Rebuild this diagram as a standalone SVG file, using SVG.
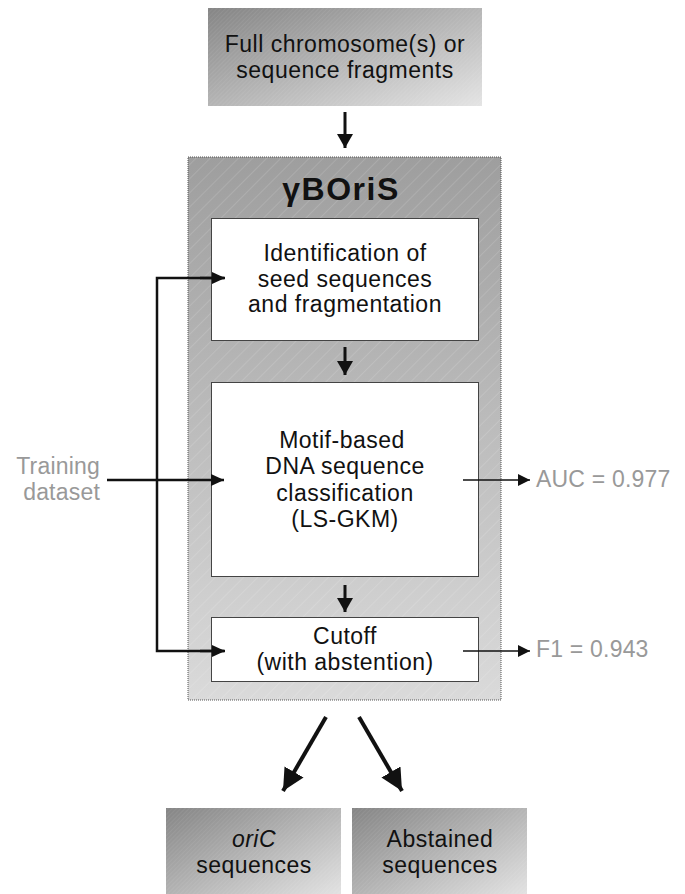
<svg xmlns="http://www.w3.org/2000/svg" width="685" height="894" viewBox="0 0 685 894">
<style>
.t{font-family:"Liberation Sans",Arial,sans-serif;font-size:23px;fill:#111;text-anchor:middle;letter-spacing:0.5px}
.g{font-family:"Liberation Sans",Arial,sans-serif;font-size:23px;fill:#999;letter-spacing:0.2px}
.box{fill:#fff;stroke:#444;stroke-width:1}
.lnk{fill:none;stroke:#111}
</style>
<defs>
<linearGradient id="gd" x1="0" y1="0" x2="1" y2="1">
<stop offset="0" stop-color="#858585"/>
<stop offset="1" stop-color="#e4e4e4"/>
</linearGradient>
<linearGradient id="gc" x1="0" y1="0" x2="0" y2="1">
<stop offset="0" stop-color="#9e9e9e"/>
<stop offset="1" stop-color="#dadada"/>
</linearGradient>
<pattern id="hatch" width="10" height="10" patternUnits="userSpaceOnUse" patternTransform="rotate(45)">
<line x1="0" y1="0" x2="0" y2="10" stroke="#fff" stroke-opacity="0.25" stroke-width="1"/>
</pattern>
<pattern id="fine" width="3" height="3" patternUnits="userSpaceOnUse" patternTransform="rotate(45)">
<line x1="0" y1="0" x2="0" y2="3" stroke="#fff" stroke-opacity="0.12" stroke-width="1"/>
</pattern>
<marker id="ab" markerUnits="userSpaceOnUse" markerWidth="16" markerHeight="16" refX="14" refY="8" orient="auto">
<path d="M0,0 L14,8 L0,16 z" fill="#111"/>
</marker>
<marker id="am" markerUnits="userSpaceOnUse" markerWidth="13" markerHeight="12" refX="13" refY="6" orient="auto">
<path d="M0,0 L13,6 L0,12 z" fill="#111"/>
</marker>
<marker id="as" markerUnits="userSpaceOnUse" markerWidth="12" markerHeight="12" refX="12" refY="6" orient="auto">
<path d="M0,0 L12,6 L0,12 z" fill="#111"/>
</marker>
<marker id="ad" markerUnits="userSpaceOnUse" markerWidth="22" markerHeight="22" refX="22" refY="11" orient="auto">
<path d="M0,0 L22,11 L0,22 z" fill="#111"/>
</marker>
</defs>

<g id="input">
<rect x="208" y="8" width="274" height="98" fill="url(#gd)"/>
<rect x="208" y="8" width="274" height="98" fill="url(#fine)"/>
<text class="t" x="345" y="52">Full chromosome(s) or</text>
<text class="t" x="345" y="78">sequence fragments</text>
</g>

<g id="yboris">
<rect x="188" y="157" width="313" height="543" fill="url(#gc)"/>
<rect x="188" y="157" width="313" height="543" fill="url(#hatch)" stroke="#555" stroke-width="1" stroke-dasharray="1,1"/>
<text x="341" y="200" font-family="'Liberation Sans',Arial,sans-serif" font-size="32" font-weight="bold" fill="#111" text-anchor="middle" letter-spacing="1.5">γBOriS</text>
</g>

<g id="seed">
<rect class="box" x="211.5" y="218.5" width="267" height="122"/>
<text class="t" x="345" y="261">Identification of</text>
<text class="t" x="345" y="287">seed sequences</text>
<text class="t" x="345" y="312">and fragmentation</text>
</g>

<g id="classify">
<rect class="box" x="211.5" y="382.5" width="267" height="194"/>
<text class="t" x="342" y="448">Motif-based</text>
<text class="t" x="345" y="474">DNA sequence</text>
<text class="t" x="345" y="501">classification</text>
<text class="t" x="345" y="527">(LS-GKM)</text>
</g>

<g id="cutoff">
<rect class="box" x="211.5" y="617.5" width="267" height="64"/>
<text class="t" x="345" y="644">Cutoff</text>
<text class="t" x="345" y="670">(with abstention)</text>
</g>

<g id="training">
<text class="g" x="100" y="474" text-anchor="end">Training</text>
<text class="g" x="100" y="500" text-anchor="end">dataset</text>
</g>

<g id="auc"><text class="g" x="536" y="487">AUC = 0.977</text></g>
<g id="f1"><text class="g" x="536" y="657">F1 = 0.943</text></g>

<g id="oric">
<rect x="166" y="808" width="175" height="90" fill="url(#gd)"/>
<rect x="166" y="808" width="175" height="90" fill="url(#fine)"/>
<text class="t" x="254" y="847" font-style="italic">oriC</text>
<text class="t" x="254" y="873">sequences</text>
</g>

<g id="abstained">
<rect x="352" y="808" width="175" height="90" fill="url(#gd)"/>
<rect x="352" y="808" width="175" height="90" fill="url(#fine)"/>
<text class="t" x="440" y="847">Abstained</text>
<text class="t" x="440" y="873">sequences</text>
</g>

<g id="connectors">
<line class="lnk" x1="345" y1="112" x2="345" y2="148" stroke-width="3" marker-end="url(#ab)"/>
<line class="lnk" x1="345" y1="347" x2="345" y2="375" stroke-width="3" marker-end="url(#ab)"/>
<line class="lnk" x1="345" y1="585" x2="345" y2="612" stroke-width="3" marker-end="url(#ab)"/>
<polyline class="lnk" points="224,278 157,278 157,651 224,651" stroke-width="2.5"/>
<line class="lnk" x1="200" y1="278" x2="225" y2="278" stroke-width="2.5" marker-end="url(#am)"/>
<line class="lnk" x1="200" y1="651" x2="225" y2="651" stroke-width="2.5" marker-end="url(#am)"/>
<line class="lnk" x1="107" y1="480" x2="224" y2="480" stroke-width="2.5" marker-end="url(#am)"/>
<line class="lnk" x1="463" y1="480" x2="530" y2="480" stroke-width="1.5" marker-end="url(#as)"/>
<line class="lnk" x1="463" y1="651" x2="530" y2="651" stroke-width="1.5" marker-end="url(#as)"/>
<line class="lnk" x1="326" y1="717" x2="283" y2="791" stroke-width="4" marker-end="url(#ad)"/>
<line class="lnk" x1="359" y1="717" x2="402" y2="791" stroke-width="4" marker-end="url(#ad)"/>
</g>
</svg>
